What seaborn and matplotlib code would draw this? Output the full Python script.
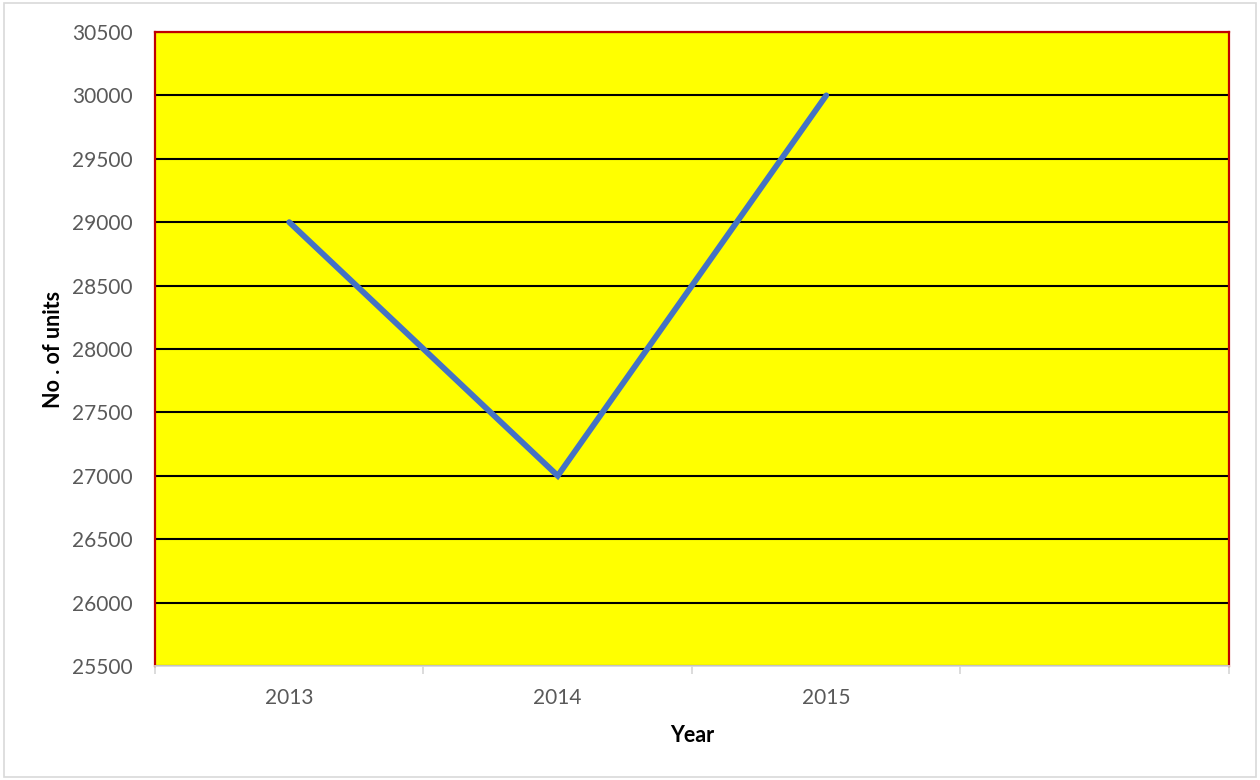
import pandas as pd
import numpy as np
import matplotlib.pyplot as plt
import seaborn as sns
from matplotlib.patches import Rectangle

sns.set_theme(style="white")
plt.rcParams['font.family'] = ['Lato', 'DejaVu Sans']

# Data
years = ['2013', '2014', '2015']
units = [29000, 27000, 30000]
tick_labels = ['2013', '2014', '2015', '']
y_ticks = list(range(25500, 30501, 500))

df = pd.DataFrame({'year': years, 'units': units})
df['pos'] = np.arange(len(df))

fig = plt.figure(figsize=(12.6, 7.8), dpi=100)
ax = fig.add_axes([0.123, 0.1462, 0.8524, 0.8128])
ax.set_facecolor('#FFFF00')

sns.lineplot(data=df, x='pos', y='units', ax=ax, color='#4472C4', linewidth=4.2,
             solid_capstyle='round', solid_joinstyle='miter', zorder=3)

ax.set_xlim(-0.5, len(tick_labels) - 0.5)
ax.set_ylim(y_ticks[0], y_ticks[-1])
ax.set_yticks(y_ticks)
ax.set_yticklabels([str(v) for v in y_ticks])
ax.set_xticks(range(len(tick_labels)))
ax.set_xticklabels(tick_labels)
ax.set_xticks(np.arange(-0.5, len(tick_labels)), minor=True)

ax.yaxis.grid(True, color='black', linewidth=1.5, zorder=1)
ax.xaxis.grid(False)
ax.set_axisbelow(True)

ax.tick_params(axis='y', which='both', length=0, pad=16, labelsize=15, labelcolor='#595959')
ax.tick_params(axis='x', which='major', length=0, pad=16, labelsize=15, labelcolor='#595959')
ax.tick_params(axis='x', which='minor', length=6, width=1.3, color='#D9D9D9', direction='out', bottom=True)

for side in ['left', 'top', 'right']:
    ax.spines[side].set_color('#C00000')
    ax.spines[side].set_linewidth(1.6)
ax.spines['bottom'].set_color('#D9D9D9')
ax.spines['bottom'].set_linewidth(1.3)

ax.set_xlabel('Year', fontsize=15.5, fontweight='bold', color='black', labelpad=12)
ax.set_ylabel('No . of units', fontsize=15.5, fontweight='bold', color='black', labelpad=6)

# outer chart border
fig.patches.append(Rectangle((0.003, 0.004), 0.994, 0.992, transform=fig.transFigure,
                             fill=False, edgecolor='#D9D9D9', linewidth=1.2))

plt.savefig('out.png', dpi=100)
plt.close()
